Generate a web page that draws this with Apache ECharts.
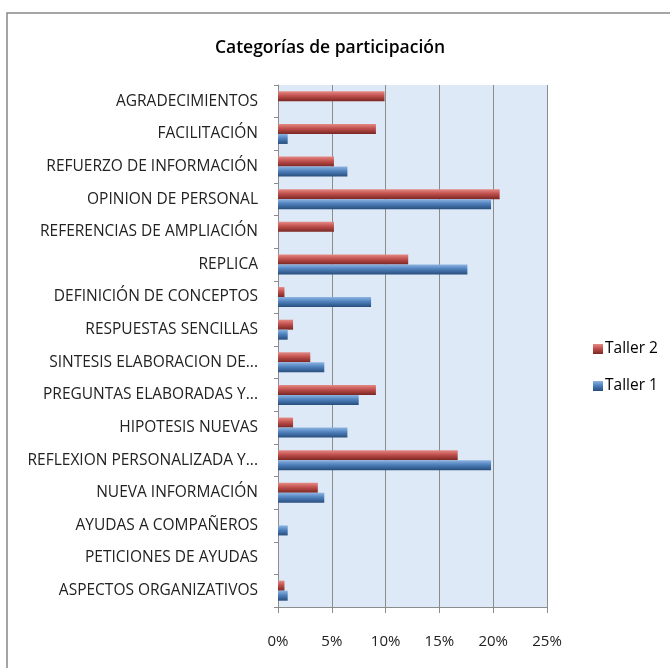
<!DOCTYPE html>
<html><head><meta charset="utf-8">
<script src="https://cdn.jsdelivr.net/npm/echarts@6/dist/echarts.min.js"></script>
<style>html,body{margin:0;padding:0;background:#fff}#c{width:670px;height:668px}</style>
</head><body><div id="c"></div>
<script>
const categories = ["AGRADECIMIENTOS","FACILITACIÓN","REFUERZO DE INFORMACIÓN","OPINION DE PERSONAL","REFERENCIAS DE AMPLIACIÓN","REPLICA","DEFINICIÓN DE CONCEPTOS","RESPUESTAS SENCILLAS","SINTESIS ELABORACION DE...","PREGUNTAS ELABORADAS Y...","HIPOTESIS NUEVAS","REFLEXION PERSONALIZADA Y...","NUEVA INFORMACIÓN","AYUDAS A COMPAÑEROS","PETICIONES DE AYUDAS","ASPECTOS ORGANIZATIVOS"];
const taller2 = [9.9, 9.1, 5.2, 20.6, 5.2, 12.1, 0.6, 1.4, 3.0, 9.1, 1.4, 16.7, 3.7, 0, 0, 0.6];
const taller1 = [0, 0.9, 6.45, 19.8, 0, 17.6, 8.65, 0.9, 4.3, 7.5, 6.45, 19.8, 4.3, 0.9, 0, 0.9];
const xTicks = [0, 5, 10, 15, 20, 25];

const font = "'Open Sans', sans-serif";
const grad = (a,b,c) => new echarts.graphic.LinearGradient(0,0,0,1,[{offset:0,color:a},{offset:0.45,color:b},{offset:1,color:c}]);
const chart = echarts.init(document.getElementById('c'), null, {renderer:'canvas'});
chart.setOption({
  backgroundColor:'#fff',
  animation:false,
  title:{text:'Categorías de participación', left:325, top:34, textAlign:'center',
    textStyle:{fontFamily:font, fontSize:17.5, fontWeight:600, color:'#000'}},
  legend:{orient:'vertical', left:588, top:336, itemGap:21, itemWidth:10, itemHeight:10, icon:'rect',
    data:['Taller 2','Taller 1'], textStyle:{fontFamily:font, fontSize:15.5, color:'#000', padding:[0,0,0,-3]}},
  graphic:[{type:'rect', shape:{x:7,y:13,width:700,height:700}, style:{fill:'none', stroke:'#888', lineWidth:1.5}, z:-1}],
  grid:{left:278, right:123, top:85, bottom:61, show:true, backgroundColor:'#dde9f6', borderWidth:0},
  xAxis:{type:'value', min:xTicks[0], max:xTicks[xTicks.length-1], interval:5,
    axisLine:{show:true, lineStyle:{color:'#8c8c8c'}},
    axisTick:{show:true, length:6, lineStyle:{color:'#8c8c8c'}},
    axisLabel:{formatter:'{value}%', fontFamily:font, fontSize:15, color:'#222', margin:27},
    splitLine:{show:true, lineStyle:{color:'#8c8c8c', width:1}}},
  yAxis:{type:'category', data:categories, inverse:true,
    axisLine:{show:true, lineStyle:{color:'#8c8c8c'}},
    axisTick:{show:true, length:4, lineStyle:{color:'#8c8c8c'}},
    axisLabel:{fontFamily:font, fontSize:15.5, color:'#222', margin:20}},
  series:[
    {name:'Taller 2', type:'bar', data:taller2, barWidth:10, barGap:'0%',
      itemStyle:{color:grad('#e58a85','#c0504d','#7a2623'), borderWidth:0}},
    {name:'Taller 1', type:'bar', data:taller1, barWidth:10, barGap:'0%',
      itemStyle:{color:grad('#8db4e2','#4f81bd','#284d7c'), borderWidth:0}}
  ]
});
</script></body></html>
